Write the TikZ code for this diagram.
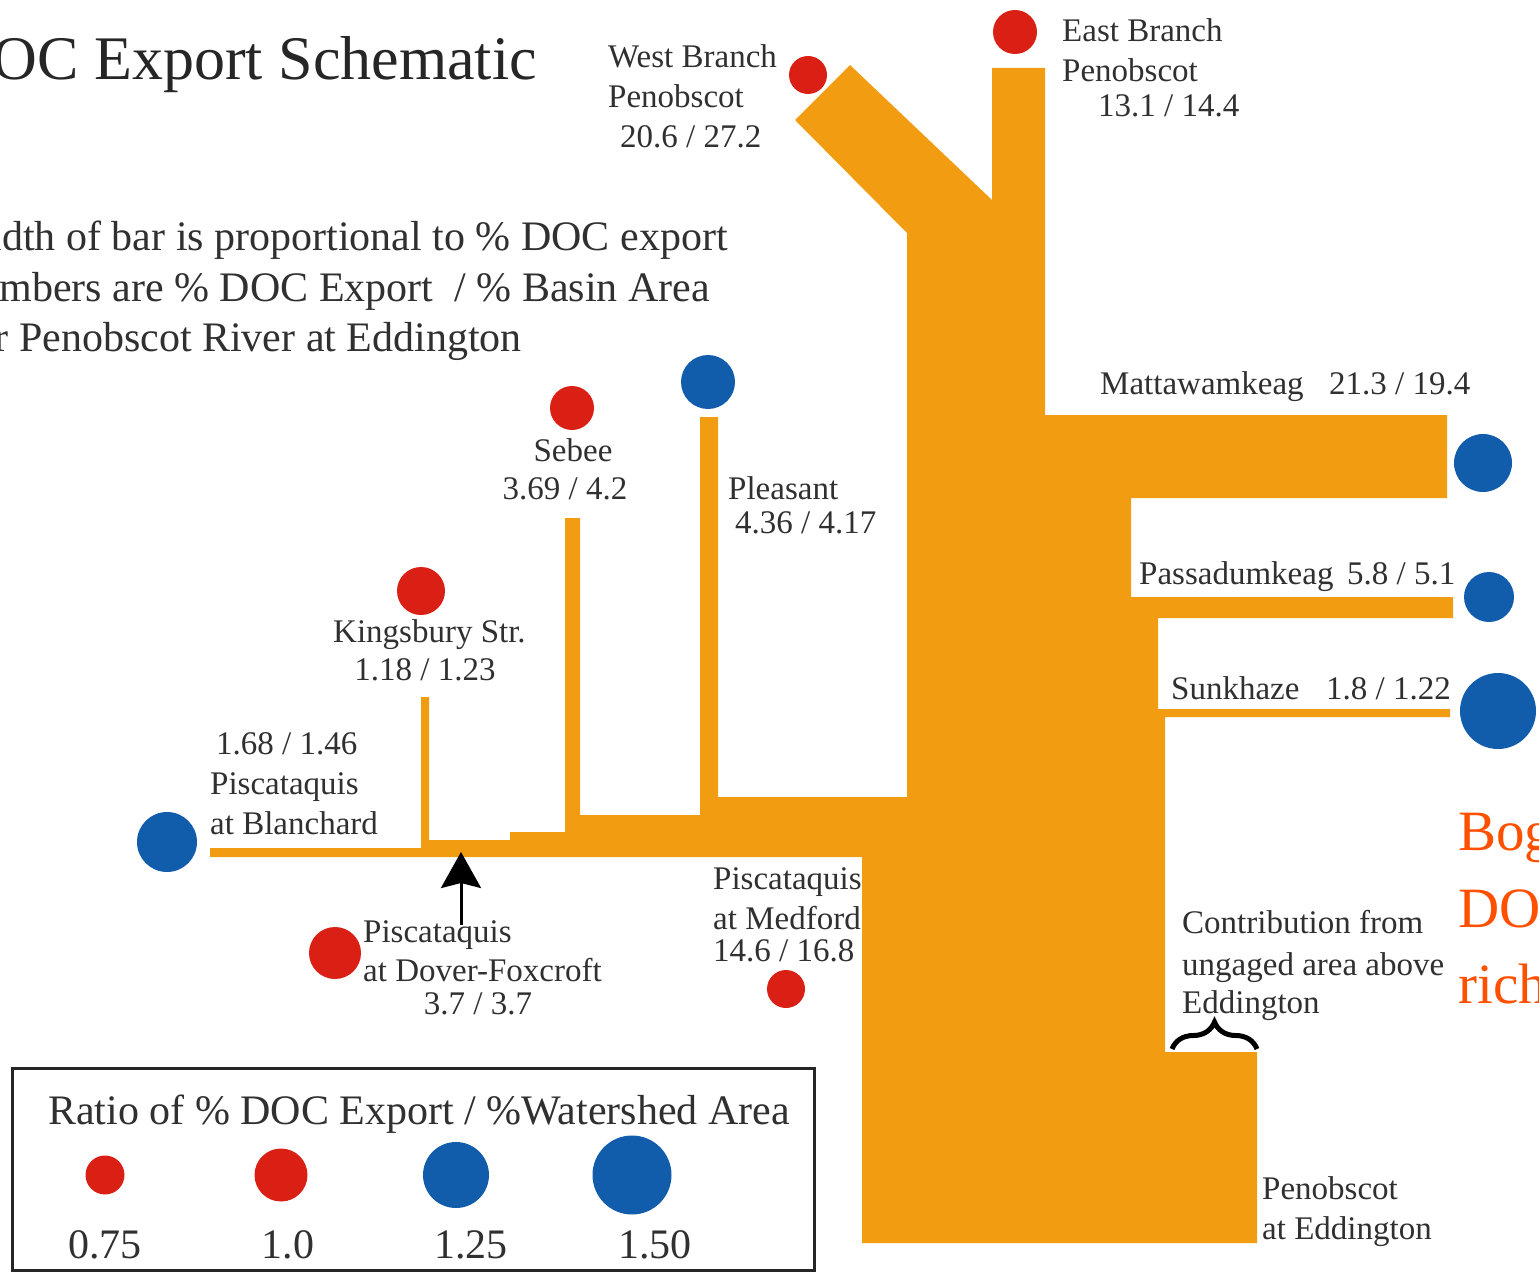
\documentclass[tikz,border=0pt]{standalone}
\usepackage{fontspec}
\setmainfont{Liberation Serif}
\usetikzlibrary{arrows.meta,decorations.pathreplacing}

\definecolor{river}{RGB}{242,156,18}
\definecolor{dotred}{RGB}{218,32,20}
\definecolor{dotblue}{RGB}{18,92,172}
\definecolor{ink}{RGB}{48,48,48}
\definecolor{note}{RGB}{255,80,0}

\newcommand\lblsize{\fontsize{33}{38}\selectfont}
\newcommand\notesize{\fontsize{42}{48}\selectfont}
\newcommand\legsize{\fontsize{42}{48}\selectfont}
\newcommand\headsize{\fontsize{62}{70}\selectfont}
\newcommand\bogsize{\fontsize{57}{66}\selectfont}

\tikzset{
  lbl/.style={font=\lblsize, text=ink, inner sep=0pt},
  notetext/.style={font=\notesize, text=ink, inner sep=0pt},
  legtext/.style={font=\legsize, text=ink, inner sep=0pt},
  headtext/.style={font=\headsize, text=black!85, inner sep=0pt},
  bogtext/.style={font=\bogsize, text=note, inner sep=0pt, anchor=base west},
  reddot/.style={circle, fill=dotred, inner sep=0pt, minimum size=#1},
  bluedot/.style={circle, fill=dotblue, inner sep=0pt, minimum size=#1},
}

\begin{document}
\begin{tikzpicture}[x=1pt,y=-1pt]
\useasboundingbox (0,0) rectangle (1539,1276);
\clip (0,0) rectangle (1539,1276);

% heading and explanatory lines
\node[headtext, anchor=base east] (title) at (537,80) {DOC Export Schematic};
\node[notetext, anchor=base east] (note1) at (728,251) {Width of bar is proportional to \% DOC export};
\node[notetext, anchor=base east] (note2) at (710,301) {Numbers are \% DOC Export~~/ \% Basin Area};
\node[notetext, anchor=base east] (note3) at (522,351) {for Penobscot River at Eddington};

% Medford labels sit partly under the main stem
\node[lbl, anchor=base west] (medA) at (713,889) {Piscataquis};
\node[lbl, anchor=base west] (medB) at (713,929) {at Medford};
\node[lbl, anchor=base west] (medC) at (713,961) {14.6 / 16.8};

% river network, bar width proportional to DOC export
\fill[river] (850,65) -- (992,200) -- (992,68) -- (1045,68) -- (1045,415)
  -- (1447,415) -- (1447,498) -- (1131,498) -- (1131,597)
  -- (1453,597) -- (1453,618) -- (1158,618) -- (1158,709)
  -- (1450,709) -- (1450,717) -- (1165,717) -- (1165,1052)
  -- (1257,1052) -- (1257,1243) -- (862,1243) -- (862,857)
  -- (210,857) -- (210,848) -- (421,848) -- (421,697) -- (429,697)
  -- (429,840) -- (510,840) -- (510,832) -- (565,832) -- (565,518)
  -- (580,518) -- (580,815) -- (700,815) -- (700,417) -- (718,417)
  -- (718,797) -- (907,797) -- (907,233) -- (795,120) -- cycle;

% gauging stations
\node[reddot=38pt]  (westB)  at (808,75)   {};
\node[reddot=44pt]  (eastB)  at (1015,32)  {};
\node[bluedot=54pt] (pleas)  at (708,382)  {};
\node[reddot=44pt]  (sebee)  at (572,408)  {};
\node[reddot=48pt]  (kings)  at (421,591)  {};
\node[bluedot=60pt] (blanch) at (167,842)  {};
\node[reddot=52pt]  (dover)  at (335,953)  {};
\node[reddot=38pt]  (medf)   at (786,989)  {};
\node[bluedot=58pt] (matta)  at (1483,463) {};
\node[bluedot=50pt] (passa)  at (1489,597) {};
\node[bluedot=76pt] (sunk)   at (1498,711) {};

% station labels
\node[lbl, anchor=base west] (wbA) at (608,68)  {West Branch};
\node[lbl, anchor=base west] (wbB) at (608,108) {Penobscot};
\node[lbl, anchor=base west] (wbC) at (620,148) {20.6 / 27.2};
\node[lbl, anchor=base west] (ebA) at (1062,42)  {East Branch};
\node[lbl, anchor=base west] (ebB) at (1062,82)  {Penobscot};
\node[lbl, anchor=base west] (ebC) at (1098,117) {13.1 / 14.4};
\node[lbl, anchor=base west] (mtA) at (1100,394) {Mattawamkeag};
\node[lbl, anchor=base west] (mtB) at (1329,394) {21.3 / 19.4};
\node[lbl, anchor=base west] (psA) at (1139,584) {Passadumkeag};
\node[lbl, anchor=base west] (psB) at (1347,584) {5.8 / 5.1};
\node[lbl, anchor=base west] (skA) at (1171,699) {Sunkhaze};
\node[lbl, anchor=base west] (skB) at (1326,699) {1.8 / 1.22};
\node[lbl, anchor=base]      (sbA) at (573,461) {Sebee};
\node[lbl, anchor=base]      (sbB) at (565,499) {3.69 / 4.2};
\node[lbl, anchor=base west] (plA) at (728,499) {Pleasant};
\node[lbl, anchor=base west] (plB) at (735,533) {4.36 / 4.17};
\node[lbl, anchor=base west] (kgA) at (333,642) {Kingsbury Str.};
\node[lbl, anchor=base]      (kgB) at (425,680) {1.18 / 1.23};
\node[lbl, anchor=base west] (blA) at (216,754) {1.68 / 1.46};
\node[lbl, anchor=base west] (blB) at (210,794) {Piscataquis};
\node[lbl, anchor=base west] (blC) at (210,834) {at Blanchard};
\node[lbl, anchor=base west] (dvA) at (363,942) {Piscataquis};
\node[lbl, anchor=base west] (dvB) at (363,981) {at Dover-Foxcroft};
\node[lbl, anchor=base]      (dvC) at (478,1014) {3.7 / 3.7};
\node[lbl, anchor=base west] (ugA) at (1182,933)  {Contribution from};
\node[lbl, anchor=base west] (ugB) at (1182,975)  {ungaged area above};
\node[lbl, anchor=base west] (ugC) at (1182,1013) {Eddington};
\node[lbl, anchor=base west] (edA) at (1262,1199) {Penobscot};
\node[lbl, anchor=base west] (edB) at (1262,1239) {at Eddington};

% Dover-Foxcroft gauge position on the Piscataquis
\coordinate (arrFoot) at (461,925);
\coordinate (arrTip)  at (461,852);
\draw[line width=3pt, -{Stealth[length=36pt,width=40pt,inset=5pt]}] (arrFoot) -- (arrTip);

% brace over the ungaged contribution
\coordinate (brL) at (1172,1049);
\coordinate (brR) at (1257,1049);
\draw[line width=5pt, decorate, decoration={brace, amplitude=27pt}] (brL) -- (brR);

% side note
\node[bogtext] (bog1) at (1458,850)  {Bog};
\node[bogtext] (bog2) at (1458,927)  {DOC};
\node[bogtext] (bog3) at (1458,1003) {rich};

% legend
\draw[line width=3pt, black!85] (12,1068) rectangle (814,1270);
\node[legtext, anchor=base] (legT) at (419,1124) {Ratio of \% DOC Export / \%Watershed Area};
\node[reddot=39pt]  (lg1) at (105,1175) {};
\node[reddot=53pt]  (lg2) at (281,1175) {};
\node[bluedot=66pt] (lg3) at (456,1175) {};
\node[bluedot=79pt] (lg4) at (632,1175) {};
\node[legtext, anchor=base] (lgA) at (105,1258) {0.75};
\node[legtext, anchor=base] (lgB) at (288,1258) {1.0};
\node[legtext, anchor=base] (lgC) at (471,1258) {1.25};
\node[legtext, anchor=base] (lgD) at (655,1258) {1.50};
\end{tikzpicture}
\end{document}
